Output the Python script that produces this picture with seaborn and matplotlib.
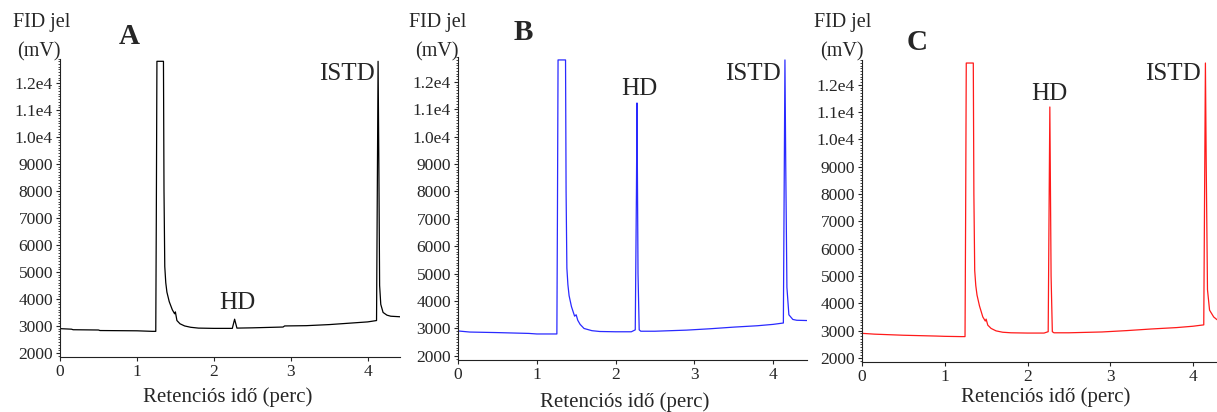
# Gas chromatograms (FID) of three samples: A, B, C
import numpy as np
import pandas as pd
import seaborn as sns
import matplotlib.pyplot as plt
from matplotlib.ticker import MultipleLocator, FuncFormatter

# --- data (time in minutes, signal in mV) ---
time_a = [0, 0.15, 0.17, 0.5, 0.52, 1.0, 1.2, 1.245, 1.252, 1.26, 1.345, 1.352, 1.362,
          1.375, 1.39, 1.42, 1.46, 1.49, 1.50, 1.52, 1.56, 1.62, 1.7, 1.8, 2.0, 2.24, 2.27,
          2.30, 2.5, 2.9, 2.92, 3.2, 3.5, 3.8, 4.0, 4.115, 4.125, 4.135, 4.145, 4.155, 4.17,
          4.2, 4.25, 4.3, 4.42]
signal_a = [2900, 2880, 2860, 2850, 2830, 2820, 2800, 2800, 7000, 12800, 12800, 8000, 5200,
            4600, 4250, 3900, 3600, 3450, 3520, 3200, 3080, 3000, 2950, 2920, 2910, 2910, 3250,
            2920, 2930, 2960, 3000, 3010, 3050, 3110, 3150, 3200, 8000, 12800, 9000, 4500, 3800,
            3500, 3400, 3360, 3340]

time_b = [0, 0.15, 0.5, 0.9, 1.0, 1.2, 1.255, 1.262, 1.27, 1.365, 1.372, 1.382, 1.395, 1.41,
          1.44, 1.48, 1.50, 1.52, 1.55, 1.6, 1.7, 1.8, 2.0, 2.2, 2.25, 2.265, 2.272, 2.285,
          2.30, 2.32, 2.5, 2.9, 3.2, 3.5, 3.8, 4.0, 4.13, 4.14, 4.15, 4.16, 4.175, 4.2, 4.25,
          4.3, 4.43]
signal_b = [2910, 2870, 2850, 2820, 2800, 2800, 2800, 7000, 12800, 12800, 8000, 5200, 4600,
            4200, 3800, 3450, 3500, 3300, 3150, 3000, 2920, 2890, 2880, 2880, 2950, 8000, 11230,
            5000, 2950, 2900, 2900, 2940, 2990, 3050, 3100, 3150, 3200, 8000, 12800, 9000, 4500,
            3500, 3330, 3300, 3290]

time_c = [0, 0.15, 0.5, 0.9, 1.0, 1.2, 1.245, 1.252, 1.26, 1.345, 1.352, 1.362, 1.375, 1.39,
          1.42, 1.46, 1.49, 1.50, 1.52, 1.56, 1.62, 1.7, 1.8, 2.0, 2.2, 2.25, 2.262, 2.27,
          2.285, 2.30, 2.32, 2.5, 2.9, 3.2, 3.5, 3.8, 4.0, 4.13, 4.14, 4.15, 4.16, 4.175, 4.2,
          4.25, 4.29]
signal_c = [2900, 2870, 2830, 2800, 2790, 2780, 2780, 7000, 12800, 12800, 8000, 5200, 4650,
            4300, 3900, 3500, 3350, 3420, 3200, 3080, 2990, 2940, 2920, 2910, 2910, 2960, 8000,
            11190, 5000, 2960, 2920, 2920, 2950, 3000, 3060, 3110, 3160, 3210, 8000, 12800,
            9000, 4500, 3750, 3500, 3400]

panels = ['A', 'B', 'C']
times = [time_a, time_b, time_c]
signals = [signal_a, signal_b, signal_c]
colors = ['black', '#2a2aff', '#ff1a1a']
xmax = [4.42, 4.43, 4.29]
yticks = [2000, 3000, 4000, 5000, 6000, 7000, 8000, 9000, 10000, 11000, 12000]

# layout in pixels: (left, right, bottom, top) of each axes
W, H = 1217, 412
boxes = [(60, 400, 357, 58.6), (458, 807, 360, 57.2), (862, 1217, 362, 60.3)]
# label positions (pixels): FID jel / (mV) x, panel letter (x, y), xlabel (x, y)
fid_x = [13, 409, 814]
mv_x = [17, 415, 820]
letter_pos = [(129, 37), (523, 33), (917, 42)]
xlabel_pos = [(228, 397), (625, 402), (1046, 397)]
# peak labels in data coords
hd_pos = [(2.31, 3850), (2.30, 11740), (2.26, 11670)]
istd_pos = [(3.73, 12330), (3.75, 12290), (3.76, 12400)]

sns.set_style("white")
plt.rcParams['font.family'] = ['Liberation Serif', 'DejaVu Serif']

fig = plt.figure(figsize=(W / 100, H / 100), dpi=100)


def fmt_y(v, pos):
    if v >= 10000:
        return '%.1fe4' % (v / 10000)
    return '%d' % v


for i, name in enumerate(panels):
    l, r, b, t = boxes[i]
    ax = fig.add_axes([l / W, 1 - b / H, (r - l) / W, (b - t) / H])
    df = pd.DataFrame({'time': times[i], 'signal': signals[i]})
    sns.lineplot(data=df, x='time', y='signal', ax=ax, color=colors[i], lw=0.9,
                 estimator=None, sort=False)
    ax.set_xlim(0, xmax[i])
    ax.set_ylim(1850, 12900)
    ax.set_xticks([0, 1, 2, 3, 4])
    ax.set_yticks(yticks)
    ax.yaxis.set_major_formatter(FuncFormatter(fmt_y))
    ax.yaxis.set_minor_locator(MultipleLocator(100))
    ax.tick_params(axis='both', which='major', labelsize=12.5, length=3, width=0.8,
                   direction='out', pad=2, left=True, bottom=True)
    ax.tick_params(axis='y', which='minor', length=1.5, width=0.6, left=True)
    ax.set_xlabel('')
    ax.set_ylabel('')
    for side in ['top', 'right']:
        ax.spines[side].set_visible(False)
    for side in ['left', 'bottom']:
        ax.spines[side].set_color('#222222')
        ax.spines[side].set_linewidth(0.8)

    ax.text(hd_pos[i][0], hd_pos[i][1], 'HD', fontsize=18, ha='center', va='center')
    ax.text(istd_pos[i][0], istd_pos[i][1], 'ISTD', fontsize=18, ha='center', va='center')

    fig.text(fid_x[i] / W, 1 - 23 / H, 'FID jel', fontsize=14.5, ha='left', va='center')
    fig.text(mv_x[i] / W, 1 - 52 / H, '(mV)', fontsize=14.5, ha='left', va='center')
    fig.text(letter_pos[i][0] / W, 1 - letter_pos[i][1] / H, name, fontsize=21,
             fontweight='bold', ha='center', va='center')
    fig.text(xlabel_pos[i][0] / W, 1 - xlabel_pos[i][1] / H, 'Retenciós idő (perc)',
             fontsize=15, ha='center', va='center')

plt.savefig('out.png', dpi=100)
